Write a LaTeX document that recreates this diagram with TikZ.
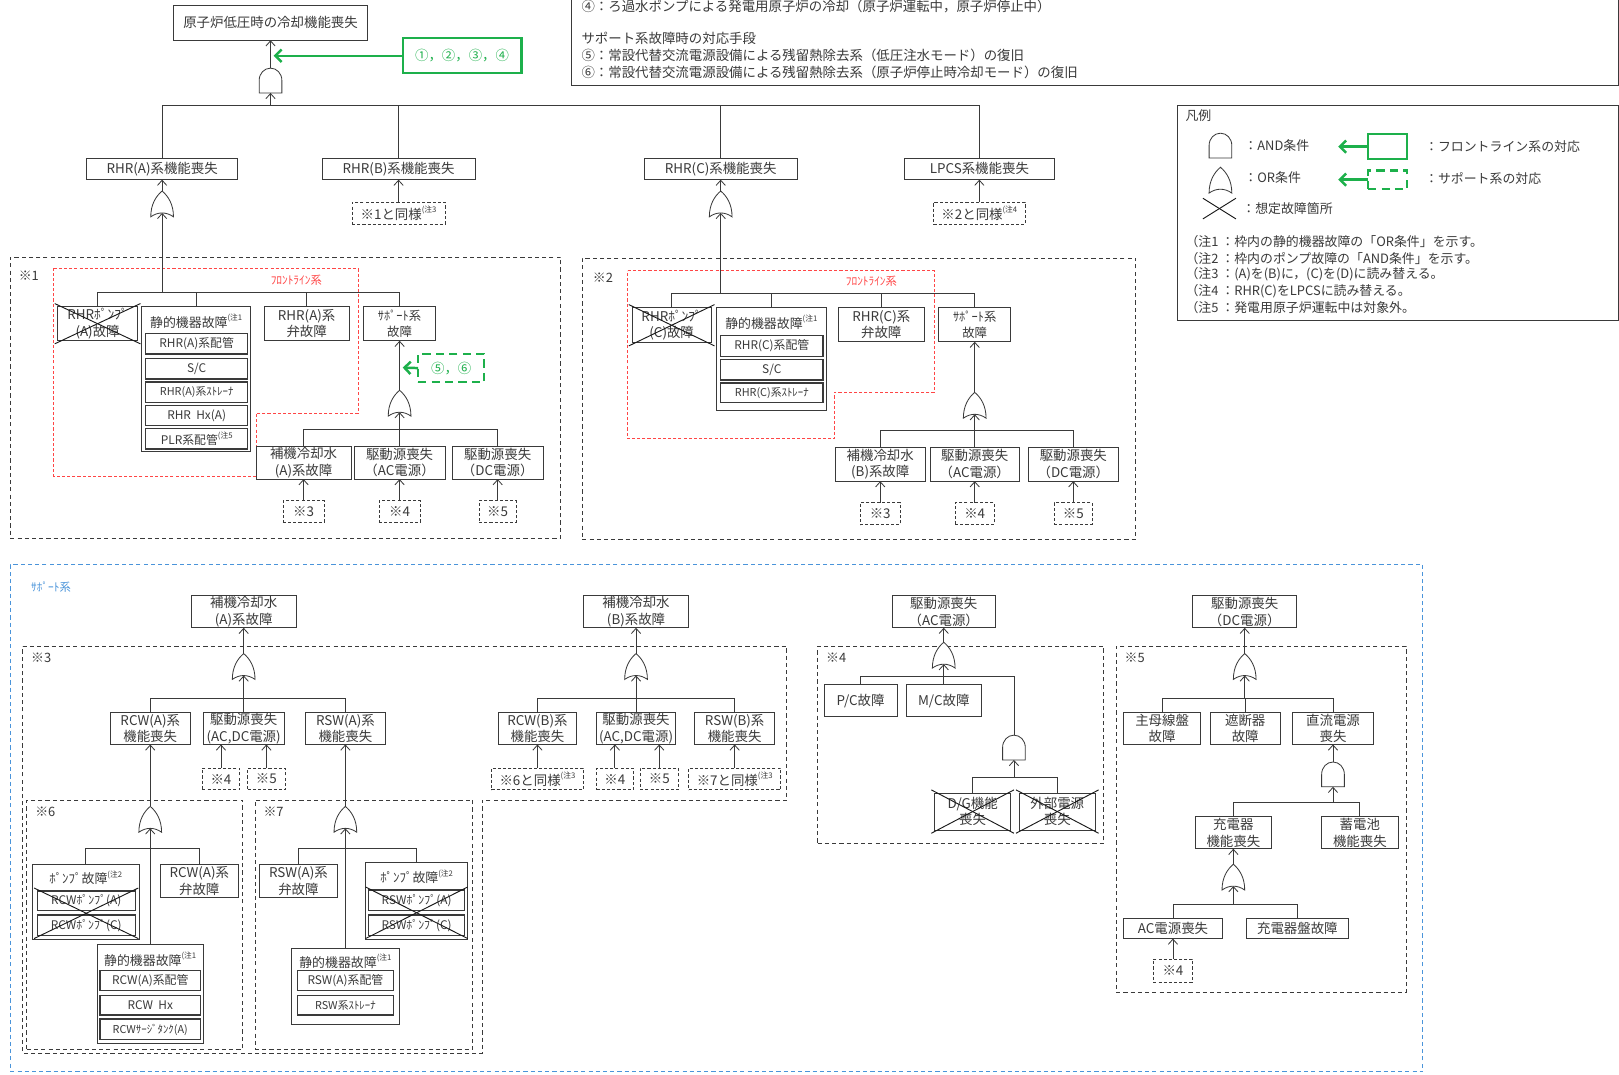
\documentclass[tikz,border=0pt]{standalone}
\usepackage{fontspec}
\setmainfont{Noto Sans CJK JP}
\usetikzlibrary{arrows.meta}
\definecolor{ln}{HTML}{3A3A3A}
\definecolor{tx}{HTML}{3A3A3A}
\definecolor{gr}{HTML}{1DB04B}
\definecolor{rd}{HTML}{FF4545}
\definecolor{bl}{HTML}{4A94DA}
\newcommand\fs[2]{\fontsize{#1}{#2}\selectfont}
\newcommand\nt[1]{\raisebox{0.5em}{\fs{7.5}{8}(注#1}}
\newcommand\bx[7][]{%
  \pgfmathsetmacro\bxw{#4-#3}\pgfmathsetmacro\bxh{#6-#5}%
  \pgfmathsetmacro\bxx{(#3+#4)/2}\pgfmathsetmacro\bxy{(#5+#6)/2}%
  \node[bxs,#1,minimum width=\bxw pt,minimum height=\bxh pt] (#2) at (\bxx,\bxy) {#7};}
\newcommand\xx[2]{%
  \draw[xl] ([shift={(-3,-3)}]#1.north west) -- ([shift={(3,3)}]#2.south east);
  \draw[xl] ([shift={(-3,3)}]#2.south west) -- ([shift={(3,-3)}]#1.north east);}
\tikzset{
  bxs/.style={draw=ln,line width=0.8pt,text=tx,inner sep=0pt,outer sep=0pt,align=center,font=\fs{13}{16}},
  sub/.style={line width=1.3pt,font=\fs{11.5}{13}},
  refb/.style={dash pattern=on 3pt off 2pt},
  frame/.style={dash pattern=on 4pt off 3pt},
  conn/.style={draw=ln,line width=0.8pt},
  arr/.style={conn,-{Straight Barb[length=5pt,width=9pt,line width=0.8pt]}},
  gate/.style={draw=ln,line width=0.8pt,fill=white},
  grbox/.style={draw=gr,line width=2.2pt,text=gr},
  grdash/.style={draw=gr,line width=2.2pt,text=gr,dash pattern=on 8pt off 5pt},
  grarr/.style={draw=gr,line width=2.4pt,-{Straight Barb[length=6pt,width=12pt,line width=2.4pt]}},
  xl/.style={draw=black!90,line width=0.9pt},
  tl/.style={anchor=west,inner sep=0pt,text=tx,font=\fs{12.5}{15}},
  tc/.style={inner sep=0pt,text=tx,font=\fs{12.5}{15}},
  andg/.pic={\draw[gate] (-11,0) -- (-11,-12) .. controls (-11,-19) and (-6,-24) .. (0,-24) .. controls (6,-24) and (11,-19) .. (11,-12) -- (11,0) -- cycle;
    \coordinate (-in) at (0,0); \coordinate (-out) at (0,-24);},
  org/.pic={\draw[gate] (-11,0) .. controls (-4,-5) and (4,-5) .. (11,0) .. controls (11,-12) and (6,-20) .. (0,-25) .. controls (-6,-20) and (-11,-12) .. (-11,0) -- cycle;
    \coordinate (-in) at (0,-3.8); \coordinate (-out) at (0,-25);},
}
\begin{document}
\begin{tikzpicture}[x=1pt,y=-1pt]
\useasboundingbox (0,0) rectangle (1568,1041);
\clip (0,0) rectangle (1568,1041);
\fill[white] (0,0) rectangle (1568,1041);

% ---------- top-right text box
\bx{tbox}{553}{1567}{-40}{83}{}
\node[tl,font=\fs{13}{15}] (t4) at (563,6) {④：ろ過水ポンプによる発電用原子炉の冷却（原子炉運転中，原子炉停止中）};
\node[tl,font=\fs{13}{15}] (tsh) at (563,37) {サポート系故障時の対応手段};
\node[tl,font=\fs{13}{15}] (t5) at (563,54) {⑤：常設代替交流電源設備による残留熱除去系（低圧注水モード）の復旧};
\node[tl,font=\fs{13}{15}] (t6) at (563,70) {⑥：常設代替交流電源設備による残留熱除去系（原子炉停止時冷却モード）の復旧};

% ---------- legend
\bx{leg}{1140}{1567}{102}{310}{}
\node[tl] (lgt) at (1148,112) {凡例};
\pic (lg1) at (1182,153) {andg};
\node[tl] (lg1t) at (1205,141) {：AND条件};
\pic (lg2) at (1182,187) {org};
\node[tl] (lg2t) at (1205,172) {：OR条件};
\coordinate (lxa) at (1165,192); \coordinate (lxb) at (1197,212);
\coordinate (lxc) at (1165,212); \coordinate (lxd) at (1197,192);
\draw[xl] (lxa) -- (lxb); \draw[xl] (lxc) -- (lxd);
\node[tl] (lg3t) at (1203,202) {：想定故障箇所};
\bx[grbox]{lgb1}{1325}{1363}{130}{154}{}
\coordinate (lga1) at (1296,142);
\draw[grarr] (lgb1.west) -- (lga1);
\node[tl] (lg4t) at (1380,142) {：フロントライン系の対応};
\bx[grdash]{lgb2}{1325}{1363}{165}{183}{}
\coordinate (lga2) at (1296,174);
\draw[grarr] (lgb2.west) -- (lga2);
\node[tl] (lg5t) at (1380,173) {：サポート系の対応};
\node[tl] (n1) at (1148,234) {（注1 ：枠内の静的機器故障の「OR条件」を示す。};
\node[tl] (n2) at (1148,250) {（注2 ：枠内のポンプ故障の「AND条件」を示す。};
\node[tl] (n3) at (1148,266) {（注3 ：(A)を(B)に，(C)を(D)に読み替える。};
\node[tl] (n4) at (1148,282) {（注4 ：RHR(C)をLPCSに読み替える。};
\node[tl] (n5) at (1148,298) {（注5 ：発電用原子炉運転中は対象外。};

% ---------- top event
\bx{top}{168}{356}{5}{39}{原子炉低圧時の冷却機能喪失}
\pic (g0) at (262,90) {andg};
\draw[arr] (g0-out) -- (top.south);
\bx[grbox]{gb0}{390}{505}{37}{71}{①，②，③，④}
\coordinate (gt0) at (265,54);
\draw[grarr] (gb0.west) -- (gt0);
\coordinate (b0) at (262,102);
\draw[arr] (b0) -- (g0-in);
\bx{rA}{84}{230}{153}{174}{RHR(A)系機能喪失}
\bx{rB}{312}{460}{153}{174}{RHR(B)系機能喪失}
\bx{rC}{624}{772}{153}{174}{RHR(C)系機能喪失}
\bx{lp}{876}{1021}{153}{174}{LPCS系機能喪失}
\foreach \q in {rA,rB,rC,lp} \draw[conn] (\q.north) |- (b0);
\bx[refb]{rB1}{341}{431}{196}{217}{※1と同様\nt{3}}
\bx[refb]{lp1}{904}{993}{196}{217}{※2と同様\nt{4}}
\draw[arr] (rB1) -- (rB);
\draw[arr] (lp1) -- (lp);
\pic (gA) at (157,210) {org};
\draw[arr] (gA-out) -- (rA.south);
\pic (gC) at (698,210) {org};
\draw[arr] (gC-out) -- (rC.south);

% ---------- ※1
\bx[frame]{f1}{10}{543}{249}{521}{}
\node[tl] (f1l) at (18,267) {※1};
\draw[rd,line width=0.8pt,dash pattern=on 3pt off 2pt] (52,260) -- (347,260) -- (347,400) -- (248,400) -- (248,461) -- (52,461) -- cycle;
\node[tc,text=rd,font=\fs{11}{12}] (fl1) at (287,271) {ﾌﾛﾝﾄﾗｲﾝ系};
\coordinate (b1) at (157,283);
\draw[arr] (b1) -- (gA-in);
\bx{pA}{56}{133}{297}{330}{RHRﾎﾟﾝﾌﾟ\\(A)故障}
\bx{sA}{137}{243}{297}{437}{}
\node[tc] (sAt) at (190,311) {静的機器故障\nt{1}};
\bx[sub]{sA1}{141}{240}{323}{343}{RHR(A)系配管}
\bx[sub]{sA2}{141}{240}{347}{367}{S/C}
\bx[sub,font=\fs{10.5}{12}]{sA3}{141}{240}{370}{390}{RHR(A)系ｽﾄﾚｰﾅ}
\bx[sub]{sA4}{141}{240}{393}{412}{RHR\ \ Hx(A)}
\bx[sub]{sA5}{141}{240}{415}{435}{PLR系配管\nt{5}}
\bx{vA}{256}{338}{297}{330}{RHR(A)系\\弁故障}
\bx[font=\fs{12}{16}]{suA}{352}{422}{297}{330}{ｻﾎﾟｰﾄ系\\故障}
\foreach \q in {pA,sA,vA,suA} \draw[conn] (\q.north) |- (b1);
\xx{pA}{pA}
\pic (gsA) at (387,403) {org};
\draw[arr] (gsA-out) -- (suA.south);
\bx[grdash]{gdA}{405}{469}{343}{370}{⑤，⑥}
\coordinate (gdAt) at (390,356);
\draw[grarr] (gdA.west) -- (gdAt);
\coordinate (b2) at (387,416);
\draw[arr] (b2) -- (gsA-in);
\bx{cwA}{248}{340}{432}{464}{補機冷却水\\(A)系故障}
\bx{acA}{343}{431}{432}{464}{駆動源喪失\\（AC電源）}
\bx{dcA}{438}{526}{432}{464}{駆動源喪失\\（DC電源）}
\foreach \q in {cwA,acA,dcA} \draw[conn] (\q.north) |- (b2);
\bx[refb]{r13}{274}{314}{485}{506}{※3}
\bx[refb]{r14}{367}{407}{485}{506}{※4}
\bx[refb]{r15}{464}{500}{485}{506}{※5}
\draw[arr] (r13) -- (cwA);
\draw[arr] (r14) -- (acA);
\draw[arr] (r15) -- (dcA);

% ---------- ※2
\bx[frame]{f2}{564}{1100}{250}{522}{}
\node[tl] (f2l) at (574,269) {※2};
\draw[rd,line width=0.8pt,dash pattern=on 3pt off 2pt] (608,262) -- (905,262) -- (905,380) -- (808,380) -- (808,425) -- (608,425) -- cycle;
\node[tc,text=rd,font=\fs{11}{12}] (fl2) at (844,272) {ﾌﾛﾝﾄﾗｲﾝ系};
\coordinate (b3) at (698,284);
\draw[arr] (b3) -- (gC-in);
\bx{pC}{612}{689}{298}{332}{RHRﾎﾟﾝﾌﾟ\\(C)故障}
\bx{sC}{694}{800}{298}{397}{}
\node[tc] (sCt) at (747,312) {静的機器故障\nt{1}};
\bx[sub]{sC1}{698}{797}{325}{345}{RHR(C)系配管}
\bx[sub]{sC2}{698}{797}{348}{368}{S/C}
\bx[sub,font=\fs{10.5}{12}]{sC3}{698}{797}{371}{390}{RHR(C)系ｽﾄﾚｰﾅ}
\bx{vC}{812}{895}{298}{331}{RHR(C)系\\弁故障}
\bx[font=\fs{12}{16}]{suC}{909}{979}{298}{331}{ｻﾎﾟｰﾄ系\\故障}
\foreach \q in {pC,sC,vC,suC} \draw[conn] (\q.north) |- (b3);
\xx{pC}{pC}
\pic (gsC) at (944,405) {org};
\draw[arr] (gsC-out) -- (suC.south);
\coordinate (b4) at (944,417);
\draw[arr] (b4) -- (gsC-in);
\bx{cwC}{809}{896}{433}{466}{補機冷却水\\(B)系故障}
\bx{acC}{901}{987}{433}{466}{駆動源喪失\\（AC電源）}
\bx{dcC}{996}{1083}{433}{466}{駆動源喪失\\（DC電源）}
\foreach \q in {cwC,acC,dcC} \draw[conn] (\q.north) |- (b4);
\bx[refb]{r23}{833}{872}{487}{508}{※3}
\bx[refb]{r24}{925}{963}{487}{508}{※4}
\bx[refb]{r25}{1021}{1058}{487}{508}{※5}
\draw[arr] (r23) -- (cwC);
\draw[arr] (r24) -- (acC);
\draw[arr] (r25) -- (dcC);

% ---------- support system frame
\bx[draw=bl,dash pattern=on 4pt off 3pt]{fS}{10}{1378}{547}{1038}{}
\node[tl,text=bl,font=\fs{11}{12}] (fSl) at (30,569) {ｻﾎﾟｰﾄ系};

% ---------- ※3
\draw[conn,frame] (22,626) -- (762,626) -- (762,775) -- (467,775) -- (467,1020) -- (22,1020) -- cycle;
\node[tl] (f3l) at (30,637) {※3};
\bx{cw3A}{185}{287}{577}{608}{補機冷却水\\(A)系故障}
\pic (g3A) at (236,658) {org};
\draw[arr] (g3A-out) -- (cw3A.south);
\coordinate (b5) at (236,676);
\draw[arr] (b5) -- (g3A-in);
\bx{rcwA}{107}{184}{690}{721}{RCW(A)系\\機能喪失}
\bx{dAA}{197}{275}{690}{721}{駆動源喪失\\(AC,DC電源)}
\bx{rswA}{296}{373}{690}{721}{RSW(A)系\\機能喪失}
\foreach \q in {rcwA,dAA,rswA} \draw[conn] (\q.north) |- (b5);
\bx[refb]{r34a}{196}{232}{744}{765}{※4}
\bx[refb]{r35a}{240}{276}{744}{765}{※5}
\draw[arr] (r34a.north) -- (r34a.north |- dAA.south);
\draw[arr] (r35a.north) -- (r35a.north |- dAA.south);

% ※6
\bx[frame]{f6}{26}{235}{775}{1016}{}
\node[tl] (f6l) at (34,786) {※6};
\pic (g6) at (145.5,806) {org};
\draw[arr] (g6-out) -- (rcwA.south);
\coordinate (b6) at (145.5,822);
\draw[arr] (b6) -- (g6-in);
\bx{p6}{31}{135}{837}{910}{}
\node[tc] (p6t) at (83,850) {ﾎﾟﾝﾌﾟ故障\nt{2}};
\bx[sub]{p6a}{36}{131}{863}{882}{RCWﾎﾟﾝﾌﾟ(A)}
\bx[sub]{p6c}{36}{131}{886}{906}{RCWﾎﾟﾝﾌﾟ(C)}
\xx{p6a}{p6c}
\bx{v6}{155}{231}{837}{869}{RCW(A)系\\弁故障}
\bx{s6}{94}{197}{915}{1011}{}
\node[tc] (s6t) at (145.5,929) {静的機器故障\nt{1}};
\bx[sub]{s6a}{97}{194}{940}{959}{RCW(A)系配管}
\bx[sub]{s6b}{97}{194}{964}{983}{RCW\ \ Hx}
\bx[sub,font=\fs{10.5}{12}]{s6c}{97}{194}{987}{1007}{RCWｻｰｼﾞﾀﾝｸ(A)}
\foreach \q in {p6,v6,s6} \draw[conn] (\q.north) |- (b6);

% ※7
\bx[frame]{f7}{247}{458}{775}{1016}{}
\node[tl] (f7l) at (255,786) {※7};
\pic (g7) at (334.5,806) {org};
\draw[arr] (g7-out) -- (rswA.south);
\coordinate (b7) at (334.5,822);
\draw[arr] (b7) -- (g7-in);
\bx{v7}{251}{327}{837}{869}{RSW(A)系\\弁故障}
\bx{p7}{354}{453}{835}{910}{}
\node[tc] (p7t) at (403.5,849) {ﾎﾟﾝﾌﾟ故障\nt{2}};
\bx[sub]{p7a}{357}{450}{862}{882}{RSWﾎﾟﾝﾌﾟ(A)}
\bx[sub]{p7c}{357}{450}{886}{906}{RSWﾎﾟﾝﾌﾟ(C)}
\xx{p7a}{p7c}
\bx{s7}{282}{387}{919}{992}{}
\node[tc] (s7t) at (334.5,931) {静的機器故障\nt{1}};
\bx[sub]{s7a}{288}{381}{940}{959}{RSW(A)系配管}
\bx[sub,font=\fs{10.5}{12}]{s7b}{288}{381}{964}{983}{RSW系ｽﾄﾚｰﾅ}
\foreach \q in {v7,p7,s7} \draw[conn] (\q.north) |- (b7);

% ※3 (B)
\bx{cw3B}{565}{667}{577}{608}{補機冷却水\\(B)系故障}
\pic (g3B) at (616,658) {org};
\draw[arr] (g3B-out) -- (cw3B.south);
\coordinate (b8) at (616,676);
\draw[arr] (b8) -- (g3B-in);
\bx{rcwB}{483}{558}{690}{721}{RCW(B)系\\機能喪失}
\bx{dAB}{578}{654}{690}{721}{駆動源喪失\\(AC,DC電源)}
\bx{rswB}{673}{750}{690}{721}{RSW(B)系\\機能喪失}
\foreach \q in {rcwB,dAB,rswB} \draw[conn] (\q.north) |- (b8);
\bx[refb]{r36}{476}{565}{744}{765}{※6と同様\nt{3}}
\bx[refb]{r34b}{578}{613}{744}{765}{※4}
\bx[refb]{r35b}{620}{657}{744}{765}{※5}
\bx[refb]{r37}{667}{756}{744}{765}{※7と同様\nt{3}}
\draw[arr] (r36.north) -- (r36.north |- rcwB.south);
\draw[arr] (r34b.north) -- (r34b.north |- dAB.south);
\draw[arr] (r35b.north) -- (r35b.north |- dAB.south);
\draw[arr] (r37.north) -- (r37.north |- rswB.south);

% ---------- ※4
\bx[frame]{f4}{792}{1069}{626}{817}{}
\node[tl] (f4l) at (800,637) {※4};
\bx{acS}{864}{964}{577}{608}{駆動源喪失\\（AC電源）}
\bx{pc}{798}{869}{663}{694}{P/C故障}
\bx{mc}{878}{950}{663}{694}{M/C故障}
\pic (g4) at (914,647) {org};
\draw[arr] (g4-out) -- (acS.south);
\coordinate (b9) at (914,655);
\draw[arr] (b9) -- (g4-in);
\pic (g4b) at (982,736) {andg};
\foreach \q in {pc,mc} \draw[conn] (\q.north) |- (b9);
\draw[conn] (g4b-out) |- (b9);
\coordinate (b10) at (982,753);
\draw[arr] (b10) -- (g4b-in);
\bx{dg}{905}{979}{768}{804}{D/G機能\\喪失}
\bx{gp}{987}{1061}{768}{804}{外部電源\\喪失}
\foreach \q in {dg,gp} \draw[conn] (\q.north) |- (b10);
\xx{dg}{dg}
\xx{gp}{gp}

% ---------- ※5
\bx[frame]{f5}{1081}{1362}{626}{961}{}
\node[tl] (f5l) at (1089,637) {※5};
\bx{dcS}{1155}{1256}{577}{608}{駆動源喪失\\（DC電源）}
\pic (g5) at (1205.5,658) {org};
\draw[arr] (g5-out) -- (dcS.south);
\coordinate (b11) at (1205.5,676);
\draw[arr] (b11) -- (g5-in);
\bx{mb}{1088}{1163}{690}{721}{主母線盤\\故障}
\bx{cb}{1172}{1240}{690}{721}{遮断器\\故障}
\bx{dcl}{1252}{1330}{690}{721}{直流電源\\喪失}
\foreach \q in {mb,cb,dcl} \draw[conn] (\q.north) |- (b11);
\pic (g5b) at (1291,762) {andg};
\draw[arr] (g5b-out) -- (dcl.south);
\coordinate (b12) at (1291,777);
\draw[arr] (b12) -- (g5b-in);
\bx{ch}{1158}{1231}{791}{822}{充電器\\機能喪失}
\bx{bt}{1280}{1354}{791}{822}{蓄電池\\機能喪失}
\foreach \q in {ch,bt} \draw[conn] (\q.north) |- (b12);
\pic (g5c) at (1194.5,862) {org};
\draw[arr] (g5c-out) -- (ch.south);
\coordinate (b13) at (1194.5,876);
\draw[arr] (b13) -- (g5c-in);
\bx{acl}{1088}{1184}{889}{909}{AC電源喪失}
\bx{chp}{1207}{1306}{889}{909}{充電器盤故障}
\foreach \q in {acl,chp} \draw[conn] (\q.north) |- (b13);
\bx[refb]{r54}{1117}{1155}{929}{951}{※4}
\draw[arr] (r54) -- (acl);
\end{tikzpicture}
\end{document}
